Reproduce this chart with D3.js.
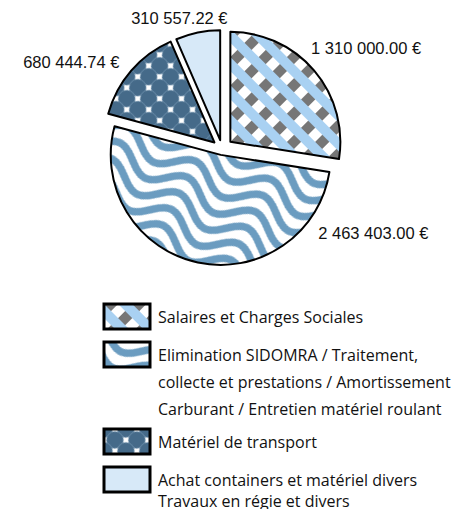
<!DOCTYPE html>
<html>
<head>
<meta charset="utf-8">
<script src="https://cdn.jsdelivr.net/npm/d3@7"></script>
<style>
  body { margin: 0; background: #fff; }
</style>
</head>
<body>
<div id="chart"></div>
<script>
// data
const categories = [
    "Salaires et Charges Sociales",
    "Elimination SIDOMRA / Traitement, collecte et prestations / Amortissement Carburant / Entretien matériel roulant",
    "Matériel de transport",
    "Achat containers et matériel divers Travaux en régie et divers"
];
const values = [1310000.00, 2463403.00, 680444.74, 310557.22];
const legendLines = [
    ["Salaires et Charges Sociales"],
    ["Elimination SIDOMRA / Traitement,", "collecte et prestations / Amortissement", "Carburant / Entretien matériel roulant"],
    ["Matériel de transport"],
    ["Achat containers et matériel divers", "Travaux en régie et divers"]
];

const width = 466, height = 509;
const cx = 222, cy = 149, radius = 110;
const explode = [11, 6, 10, 9];          // px each slice is pulled out
const labelAngle = [55, 119, 300, 342];  // degrees, clockwise from 12 o'clock
const labelDist = [176, 173, 174, 138];

const locale = d3.formatLocale({ decimal: ".", thousands: "\u00a0", grouping: [3], currency: ["", " €"] });
const fmt = locale.format("$,.2f");

const svg = d3.select("#chart")
    .append("svg")
    .attr("width", width)
    .attr("height", height);

const defs = svg.append("defs");

// Salaires: blue diagonal stripes + grey checker band
let p = defs.append("pattern")
    .attr("id", "pat0")
    .attr("patternUnits", "userSpaceOnUse")
    .attr("width", 20).attr("height", 20)
    .attr("patternTransform", "rotate(45)");
p.append("rect").attr("width", 20).attr("height", 20).attr("fill", "#fff");
p.append("rect").attr("width", 20).attr("height", 10).attr("fill", "#a9d1f2");
p.append("rect").attr("y", 10).attr("width", 10).attr("height", 10).attr("fill", "#767676");

// Elimination: wavy bands
const waveL = 76, waveP = 18, waveA = 10;
p = defs.append("pattern")
    .attr("id", "pat1")
    .attr("patternUnits", "userSpaceOnUse")
    .attr("width", waveL).attr("height", waveP)
    .attr("patternTransform", "rotate(27)");
p.append("rect").attr("width", waveL).attr("height", waveP).attr("fill", "#fff");
const wave = d3.line().curve(d3.curveBasis);
[-1, 0, 1, 2].forEach(function (k) {
    const pts = d3.range(-6, waveL + 7, 2).map(function (x) {
        return [x, waveP / 2 + k * waveP + waveA * Math.sin(2 * Math.PI * x / waveL)];
    });
    p.append("path")
        .attr("d", wave(pts))
        .attr("fill", "none")
        .attr("stroke", "#6b9cc0")
        .attr("stroke-width", 7.5);
});

// Matériel de transport: dark circles
const cs = 15.5;
p = defs.append("pattern")
    .attr("id", "pat2")
    .attr("patternUnits", "userSpaceOnUse")
    .attr("width", cs).attr("height", cs)
    .attr("patternTransform", "rotate(45)");
p.append("rect").attr("width", cs).attr("height", cs).attr("fill", "#fff");
[[0, 0], [cs, 0], [0, cs], [cs, cs]].forEach(function (c) {
    p.append("circle")
        .attr("cx", c[0]).attr("cy", c[1]).attr("r", 8.5)
        .attr("fill", "#456a89")
        .attr("stroke", "#7d9db9")
        .attr("stroke-width", 0.5);
});

const fills = ["url(#pat0)", "url(#pat1)", "url(#pat2)", "#d7e9f8"];

// Pie
const pie = d3.pie().sort(null).value(function (d) { return d; });
const arcs = pie(values);
const arc = d3.arc().innerRadius(0).outerRadius(radius);

const g = svg.append("g").attr("transform", "translate(" + cx + "," + cy + ")");

g.selectAll(".slice")
    .data(arcs)
    .enter()
    .append("path")
    .attr("class", "slice")
    .attr("transform", function (d, i) {
        const a = (d.startAngle + d.endAngle) / 2;
        return "translate(" + (explode[i] * Math.sin(a)) + "," + (-explode[i] * Math.cos(a)) + ")";
    })
    .attr("d", arc)
    .attr("fill", function (d, i) { return fills[i]; })
    .attr("stroke", "#000")
    .attr("stroke-width", 2)
    .attr("stroke-linejoin", "round");

// value labels
g.selectAll(".vlabel")
    .data(arcs)
    .enter()
    .append("text")
    .attr("class", "vlabel")
    .attr("x", function (d, i) { return labelDist[i] * Math.sin(labelAngle[i] * Math.PI / 180); })
    .attr("y", function (d, i) { return -labelDist[i] * Math.cos(labelAngle[i] * Math.PI / 180); })
    .attr("dy", "0.35em")
    .attr("text-anchor", "middle")
    .attr("font-family", "Liberation Sans, Arial, sans-serif")
    .attr("font-size", "16.5px")
    .attr("fill", "#111")
    .text(function (d) { return fmt(d.data); });

// Legend
const legendTop = [304, 342, 429, 467];
const lineGap = [0, 27, 0, 21];
const legend = svg.append("g").attr("class", "legend");

legendLines.forEach(function (lines, i) {
    const row = legend.append("g").attr("transform", "translate(104," + legendTop[i] + ")");
    row.append("rect")
        .attr("width", 46).attr("height", 25)
        .attr("fill", fills[i])
        .attr("stroke", "#000")
        .attr("stroke-width", 3);
    lines.forEach(function (t, j) {
        row.append("text")
            .attr("x", 54)
            .attr("y", 19 + j * lineGap[i])
            .attr("font-family", "Open Sans, Noto Sans, sans-serif")
            .attr("font-size", "16px")
            .attr("fill", "#111")
            .text(t);
    });
});
</script>
</body>
</html>
